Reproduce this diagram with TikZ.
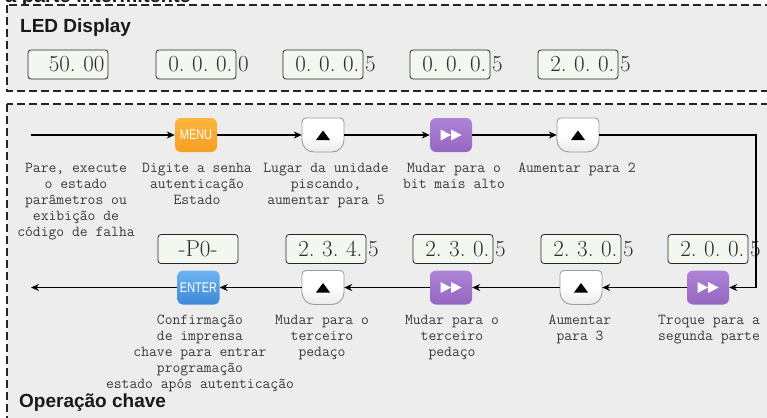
\documentclass[tikz,border=0pt]{standalone}
\usepackage{fontspec}
\usetikzlibrary{arrows.meta,calc}
\newfontfamily\hdfont{Liberation Sans}
\newfontfamily\btnfont[FakeStretch=0.78]{Liberation Sans}
\definecolor{panel}{HTML}{ECEDEC}
\definecolor{ledfill}{HTML}{F2F7F0}
\definecolor{ledtext}{HTML}{2E2E2E}
\definecolor{labgray}{HTML}{3A3A3A}
\definecolor{menuTop}{HTML}{FDB63D}
\definecolor{menuBot}{HTML}{F59E22}
\definecolor{entTop}{HTML}{6DB4F2}
\definecolor{entBot}{HTML}{3D88D8}
\definecolor{ffTop}{HTML}{AE84D7}
\definecolor{ffBot}{HTML}{9666C1}
\definecolor{keyline}{HTML}{9C9C9C}
\newcommand\ledfont{\fontsize{23}{26}\selectfont\frenchspacing}
\newcommand\labfont{\ttfamily\fontsize{15.2}{16}\selectfont\frenchspacing}
\newcommand\headfont{\hdfont\bfseries\fontsize{19}{22}\selectfont}
\newcommand\fftri[1]{%
  \fill[white] ($(#1)+(-10.5,-5.5)$) -- ($(#1)+(0,0)$) -- ($(#1)+(-10.5,5.5)$) -- cycle;
  \fill[white] ($(#1)+(0,-5.5)$) -- ($(#1)+(10.5,0)$) -- ($(#1)+(0,5.5)$) -- cycle;}
\newcommand\upkey[1]{%
  \draw[draw=keyline, line width=0.9pt, top color=white, bottom color=white!92!black, middle color=white]
    ($(#1)+(-21,-13)$) arc[start angle=180, end angle=90, radius=4pt]
    -- ($(#1)+(17,-17)$) arc[start angle=90, end angle=0, radius=4pt]
    -- ($(#1)+(21,5)$) arc[start angle=0, end angle=-90, radius=12pt]
    -- ($(#1)+(-9,17)$) arc[start angle=270, end angle=180, radius=12pt]
    -- cycle;
  \fill[black] ($(#1)+(-7,5)$) -- ($(#1)+(7,5)$) -- ($(#1)+(0,-4.5)$) -- cycle;}
\begin{document}
\begin{tikzpicture}[x=1pt,y=-1pt,
  panelborder/.style={draw=black!85, line width=1.8pt, dash pattern=on 8pt off 4pt},
  led/.style={draw=black!85, line width=0.8pt, rounded corners=3pt, fill=ledfill,
    text width=73pt, align=right, inner xsep=3.5pt, inner ysep=0pt,
    minimum height=29pt, font=\ledfont, text=ledtext},
  ledx/.style={anchor=west, inner sep=0pt, xshift=1.5pt, font=\ledfont, text=ledtext},
  lab/.style={font=\labfont, align=center, inner sep=0pt, anchor=north, text=labgray},
  head/.style={font=\headfont, inner sep=0pt, anchor=base west, text=black!90},
  btn/.style={minimum width=42pt, minimum height=34pt, inner sep=0pt},
  menubtn/.style={btn, rounded corners=6pt, top color=menuTop, bottom color=menuBot,
    text=white, font=\btnfont\fontsize{14}{16}\selectfont},
  entbtn/.style={btn, rounded corners=5pt, top color=entTop, bottom color=entBot,
    text=white, font=\btnfont\fontsize{14}{16}\selectfont},
  ffbtn/.style={btn, rounded corners=6pt, top color=ffTop, bottom color=ffBot},
  conn/.style={draw=black, line width=1.3pt, -{Stealth[length=8pt,width=7pt]}}
]
\useasboundingbox (0,0) rectangle (767,417);
\fill[white] (0,0) rectangle (767,417);
\node[head, font=\hdfont\bfseries\fontsize{20}{22}\selectfont] (toptxt) at (5,2.5) {a parte intermitente};
\draw[panelborder, fill=panel] (7,5) rectangle (790,91);
\draw[panelborder, fill=panel] (7,104) rectangle (790,440);

\node[head] (ledtitle) at (20,33) {LED Display};
\node[head] (optitle) at (19,407) {Operação chave};

% LED row 1
\node[led] (d1) at (68,64.5) {50. 00};
\node[led] (d2) at (196,64.5) {0. 0. 0.};
\node[ledx] (d2x) at (d2.east) {0};
\node[led] (d3) at (323,64.5) {0. 0. 0.};
\node[ledx] (d3x) at (d3.east) {5};
\node[led] (d4) at (450,64.5) {0. 0. 0.};
\node[ledx] (d4x) at (d4.east) {5};
\node[led] (d5) at (578,64.5) {2. 0. 0.};
\node[ledx] (d5x) at (d5.east) {5};

% flow row 1
\coordinate (s1) at (31,135);
\node[menubtn] (menu) at (196,135) {MENU};
\node[btn] (u1) at (323,135) {}; \upkey{u1}
\node[ffbtn] (f1) at (451,135) {}; \fftri{f1}
\node[btn] (u2) at (578,135) {}; \upkey{u2}
\coordinate (c1) at (756,135);

\node[lab] (t1) at (76,163) {Pare, execute\\o estado\\parâmetros ou\\exibição de\\código de falha};
\node[lab] (t2) at (197,163) {Digite a senha\\autenticação\\Estado};
\node[lab] (t3) at (326,163) {Lugar da unidade\\piscando,\\aumentar para 5};
\node[lab] (t4) at (454,163) {Mudar para o\\bit mais alto};
\node[lab] (t5) at (577,163) {Aumentar para 2};

% LED row 2
\node[led, align=center] (p0) at (198,249) {-P0-};
\node[led] (e1) at (326,249) {2. 3. 4.};
\node[ledx] (e1x) at (e1.east) {5};
\node[led] (e2) at (453,249) {2. 3. 0.};
\node[ledx] (e2x) at (e2.east) {5};
\node[led] (e3) at (581,249) {2. 3. 0.};
\node[ledx] (e3x) at (e3.east) {5};
\node[led] (e4) at (708,249) {2. 0. 0.};
\node[ledx] (e4x) at (e4.east) {5};

% flow row 2
\node[ffbtn] (f2) at (708,287.5) {}; \fftri{f2}
\node[btn] (u3) at (581,287.5) {}; \upkey{u3}
\node[ffbtn] (f3) at (451,287.5) {}; \fftri{f3}
\node[btn] (u4) at (323,287.5) {}; \upkey{u4}
\node[entbtn] (ent) at (198.5,287.5) {ENTER};
\coordinate (z2) at (31,287.5);

\node[lab] (r1) at (200,315) {Confirmação\\de imprensa\\chave para entrar\\programação\\estado após autenticação};
\node[lab] (r2) at (322,315) {Mudar para o\\terceiro\\pedaço};
\node[lab] (r3) at (452,315) {Mudar para o\\terceiro\\pedaço};
\node[lab] (r4) at (580,315) {Aumentar\\para 3};
\node[lab] (r5) at (709,315) {Troque para a\\segunda parte};

% connectors
\draw[conn] (s1) -- (menu);
\draw[conn] (menu) -- (u1);
\draw[conn] (u1) -- (f1);
\draw[conn] (f1) -- (u2);
\draw[conn] (u2) -- (c1) |- (f2);
\draw[conn] (f2) -- (u3);
\draw[conn] (u3) -- (f3);
\draw[conn] (f3) -- (u4);
\draw[conn] (u4) -- (ent);
\draw[conn] (ent) -- (z2);
\end{tikzpicture}
\end{document}
